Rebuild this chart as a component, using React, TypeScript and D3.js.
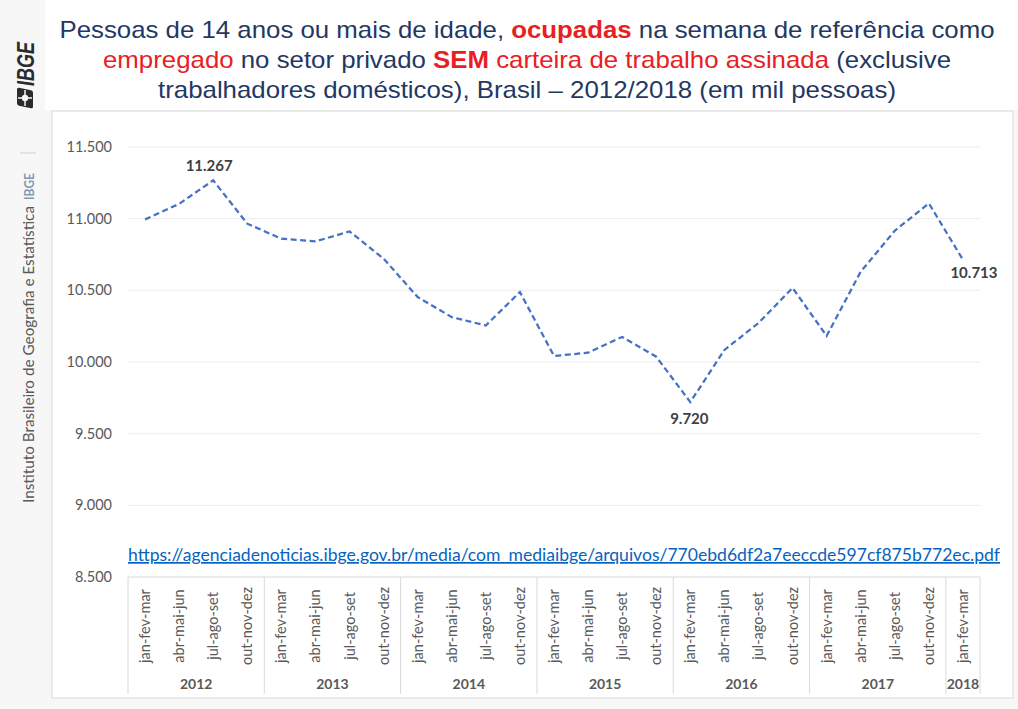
import React from "react";
import * as d3 from "d3";

const quarters = ["jan-fev-mar", "abr-mai-jun", "jul-ago-set", "out-nov-dez"];
const years = ["2012", "2013", "2014", "2015", "2016", "2017", "2018"];
const quartersPerYear = [4, 4, 4, 4, 4, 4, 1];
const values = [
  10995, 11103, 11267, 10965, 10860, 10841, 10911, 10721, 10453, 10313, 10255, 10488,
  10042, 10065, 10175, 10037, 9720, 10084, 10272, 10517, 10182, 10630, 10916, 11107, 10713,
];
const labeledIdx = [2, 16, 24];
const yTicks = [8500, 9000, 9500, 10000, 10500, 11000, 11500];
const url = "https://agenciadenoticias.ibge.gov.br/media/com_mediaibge/arquivos/770ebd6df2a7eeccde597cf875b772ec.pdf";

const categories: { q: string; y: string; key: string }[] = [];
years.forEach((y, yi) => {
  for (let i = 0; i < quartersPerYear[yi]; i++) categories.push({ q: quarters[i], y, key: y + "-" + i });
});

const loc = d3.formatLocale({ decimal: ",", thousands: ".", grouping: [3], currency: ["R$", ""] });
const fmt = loc.format(",.0f");

const NAVY = "#1f3864";
const RED = "#e8201f";
const GREY = "#595959";
const FONT = "Lato, 'Open Sans', sans-serif";

export default function App() {
  const W = 1018, H = 709;
  const x = d3.scaleBand<string>().domain(categories.map((c) => c.key)).range([128, 980]).padding(0);
  const y = d3.scaleLinear().domain([8500, 11500]).range([577, 147]);
  const cx = (i: number) => (x(categories[i].key) as number) + x.bandwidth() / 2;
  const line = d3.line<number>().x((_, i) => cx(i)).y((d) => y(d));

  const bounds: number[] = [];
  let acc = 0;
  bounds.push(x(categories[0].key) as number);
  quartersPerYear.forEach((n) => {
    acc += n;
    const last = categories[acc - 1];
    bounds.push((x(last.key) as number) + x.bandwidth());
  });

  const labelPos: Record<number, { dx: number; dy: number }> = {
    2: { dx: -4, dy: -9 },
    16: { dx: -1, dy: 22 },
    24: { dx: 11, dy: 18 },
  };

  return (
    <svg width={W} height={H} style={{ position: "absolute", left: 0, top: 0, background: "#f7f7f7" }}>
      <rect x={45} y={0} width={W - 45} height={110} fill="#ffffff" />
      <g fontFamily="'Liberation Sans', Arial, sans-serif" fontSize={24} fill={NAVY} textAnchor="middle">
        <text x={527} y={38} textLength={935} lengthAdjust="spacingAndGlyphs">
          Pessoas de 14 anos ou mais de idade, <tspan fill={RED} fontWeight="bold">ocupadas</tspan> na semana de referência como
        </text>
        <text x={527} y={68} textLength={848} lengthAdjust="spacingAndGlyphs">
          <tspan fill={RED}>empregado</tspan> no setor privado <tspan fill={RED} fontWeight="bold">SEM</tspan>{" "}
          <tspan fill={RED}>carteira de trabalho assinada</tspan> (exclusive
        </text>
        <text x={527} y={98} textLength={738} lengthAdjust="spacingAndGlyphs">
          trabalhadores domésticos), Brasil – 2012/2018 (em mil pessoas)
        </text>
      </g>

      <g>
        <text
          transform="translate(34,86) rotate(-90)"
          fontFamily="'Liberation Sans', Arial, sans-serif"
          fontWeight="bold"
          fontStyle="italic"
          fontSize={23}
          fill="#2b2b2b"
          textLength={44}
          lengthAdjust="spacingAndGlyphs"
        >
          IBGE
        </text>
        <g transform="translate(25,98) rotate(-90)">
          <rect x={-9} y={-8} width={18} height={16} rx={2} fill="#2b2b2b" transform="skewX(-12)" />
          <circle cx={0} cy={0} r={3.2} fill="#f7f7f7" />
          <line x1={-8} y1={0} x2={8} y2={0} stroke="#f7f7f7" strokeWidth={1.5} />
          <line x1={0} y1={-7} x2={0} y2={7} stroke="#f7f7f7" strokeWidth={1.5} />
        </g>
        <line x1={20} y1={153} x2={36} y2={153} stroke="#cfcfcf" strokeWidth={1} />
        <text
          transform="translate(34,200) rotate(-90)"
          fontFamily={FONT}
          fontWeight="bold"
          fontSize={13.5}
          fill="#8497b0"
          textLength={27}
          lengthAdjust="spacingAndGlyphs"
        >
          IBGE
        </text>
        <text
          transform="translate(34,503) rotate(-90)"
          fontFamily={FONT}
          fontSize={14.5}
          fill={GREY}
          textLength={297}
          lengthAdjust="spacingAndGlyphs"
        >
          Instituto Brasileiro de Geografia e Estatística
        </text>
      </g>

      <rect x={52} y={111} width={961} height={587} fill="#ffffff" stroke="#d9d9d9" strokeWidth={1} />

      {yTicks.map((t) => (
        <g key={t}>
          <line x1={128} x2={980} y1={y(t)} y2={y(t)} stroke={t === 8500 ? "#d9d9d9" : "#ececec"} strokeWidth={1} />
          <text x={112} y={y(t) + 5} textAnchor="end" fontFamily={FONT} fontSize={14.5} fill={GREY}>
            {fmt(t)}
          </text>
        </g>
      ))}

      {bounds.map((b, i) => (
        <line key={i} x1={b} x2={b} y1={577} y2={694} stroke="#d9d9d9" strokeWidth={1} />
      ))}
      {categories.map((c, i) => (
        <text
          key={c.key}
          transform={`translate(${cx(i) + 5},626) rotate(-90)`}
          textAnchor="middle"
          fontFamily={FONT}
          fontSize={14.5}
          fill={GREY}
        >
          {c.q}
        </text>
      ))}
      {years.map((yr, i) => (
        <text
          key={yr}
          x={(bounds[i] + bounds[i + 1]) / 2}
          y={689}
          textAnchor="middle"
          fontFamily={FONT}
          fontWeight="bold"
          fontSize={14}
          fill={GREY}
        >
          {yr}
        </text>
      ))}

      <path d={line(values) || ""} fill="none" stroke="#4472c4" strokeWidth={2.25} strokeDasharray="6,3.5" />

      {labeledIdx.map((i) => (
        <text
          key={i}
          x={cx(i) + labelPos[i].dx}
          y={y(values[i]) + labelPos[i].dy}
          textAnchor="middle"
          fontFamily={FONT}
          fontWeight="bold"
          fontSize={15}
          fill="#404040"
        >
          {fmt(values[i])}
        </text>
      ))}

      <text
        x={128}
        y={561}
        fontFamily={FONT}
        fontSize={17}
        fill="#0563c1"
        textDecoration="underline"
        textLength={872}
        lengthAdjust="spacingAndGlyphs"
      >
        {url}
      </text>
    </svg>
  );
}
